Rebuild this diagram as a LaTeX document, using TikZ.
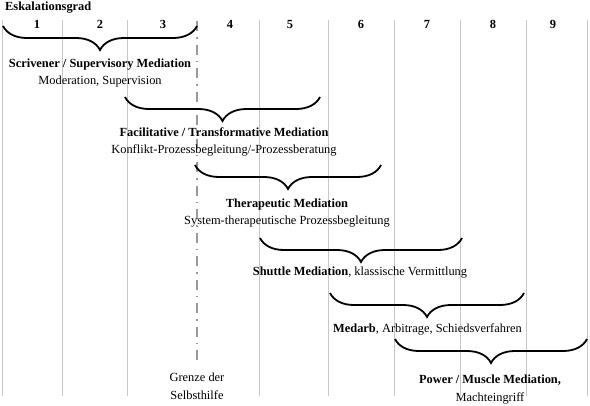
\documentclass[tikz,border=0pt]{standalone}
\usepackage{fontspec}
\setmainfont{Liberation Serif}
\usetikzlibrary{decorations.pathreplacing}

\begin{document}
\begin{tikzpicture}[
    x=1pt, y=-1pt,
    gridline/.style={
        draw=black!22,
        line width=0.8pt
    },
    limitline/.style={
        draw=black!40,
        line width=2pt,
        dash pattern=on 10pt off 6pt on 1.5pt off 6pt
    },
    grad/.style={
        font=\fontsize{12.4}{14}\selectfont\bfseries,
        anchor=base,
        inner sep=0pt
    },
    stage/.style={
        font=\fontsize{12.4}{14}\selectfont,
        anchor=base,
        inner sep=0pt
    },
    stagebrace/.style={
        draw=black,
        line width=1.8pt,
        decorate,
        decoration={brace, amplitude=24pt, mirror}
    }
]

\useasboundingbox (0,0) rectangle (590,405);

% Title
\node[grad, anchor=base west] (title) at (5,10) {Eskalationsgrad};

% Columns
\foreach \x in {2,62,127,259,328,394,460,526,587}
    \draw[gridline] (\x,20) -- (\x,396);

% Escalation degrees
\foreach \x/\n in {37/1,100/2,163/3,230/4,290/5,361/6,427/7,493/8,553/9}
    \node[grad] (g\n) at (\x,28) {\n};

% Limit of self-help
\draw[limitline] (197,21) -- (197,366);
\node[stage] (limit1) at (197,381) {Grenze der};
\node[stage] (limit2) at (197,399) {Selbsthilfe};

% Stage 1
\draw[stagebrace] (3,26) -- (197,26);
\node[stage] (s1a) at (100,67) {\textbf{Scrivener / Supervisory Mediation}};
\node[stage] (s1b) at (100,84.5) {Moderation, Supervision};

% Stage 2
\draw[stagebrace] (125,97) -- (320,97);
\node[stage] (s2a) at (224,136.5) {\textbf{Facilitative / Transformative Mediation}};
\node[stage] (s2b) at (224,153.5) {Konflikt-Prozessbegleitung/-Prozessberatung};

% Stage 3
\draw[stagebrace] (195,165) -- (381,165);
\node[stage] (s3a) at (287,207.5) {\textbf{Therapeutic Mediation}};
\node[stage] (s3b) at (287,224.5) {System-therapeutische Prozessbegleitung};

% Stage 4
\draw[stagebrace] (260,238) -- (462,238);
\node[stage] (s4a) at (360,275.5) {\textbf{Shuttle Mediation}, klassische Vermittlung};

% Stage 5
\draw[stagebrace] (330,293) -- (524,293);
\node[stage] (s5a) at (427.5,332.5) {\textbf{Medarb}, Arbitrage, Schiedsverfahren};

% Stage 6
\draw[stagebrace] (395,339) -- (587,339);
\node[stage] (s6a) at (490,383.5) {\textbf{Power / Muscle Mediation,}};
\node[stage] (s6b) at (490,401.5) {Machteingriff};

\end{tikzpicture}
\end{document}
